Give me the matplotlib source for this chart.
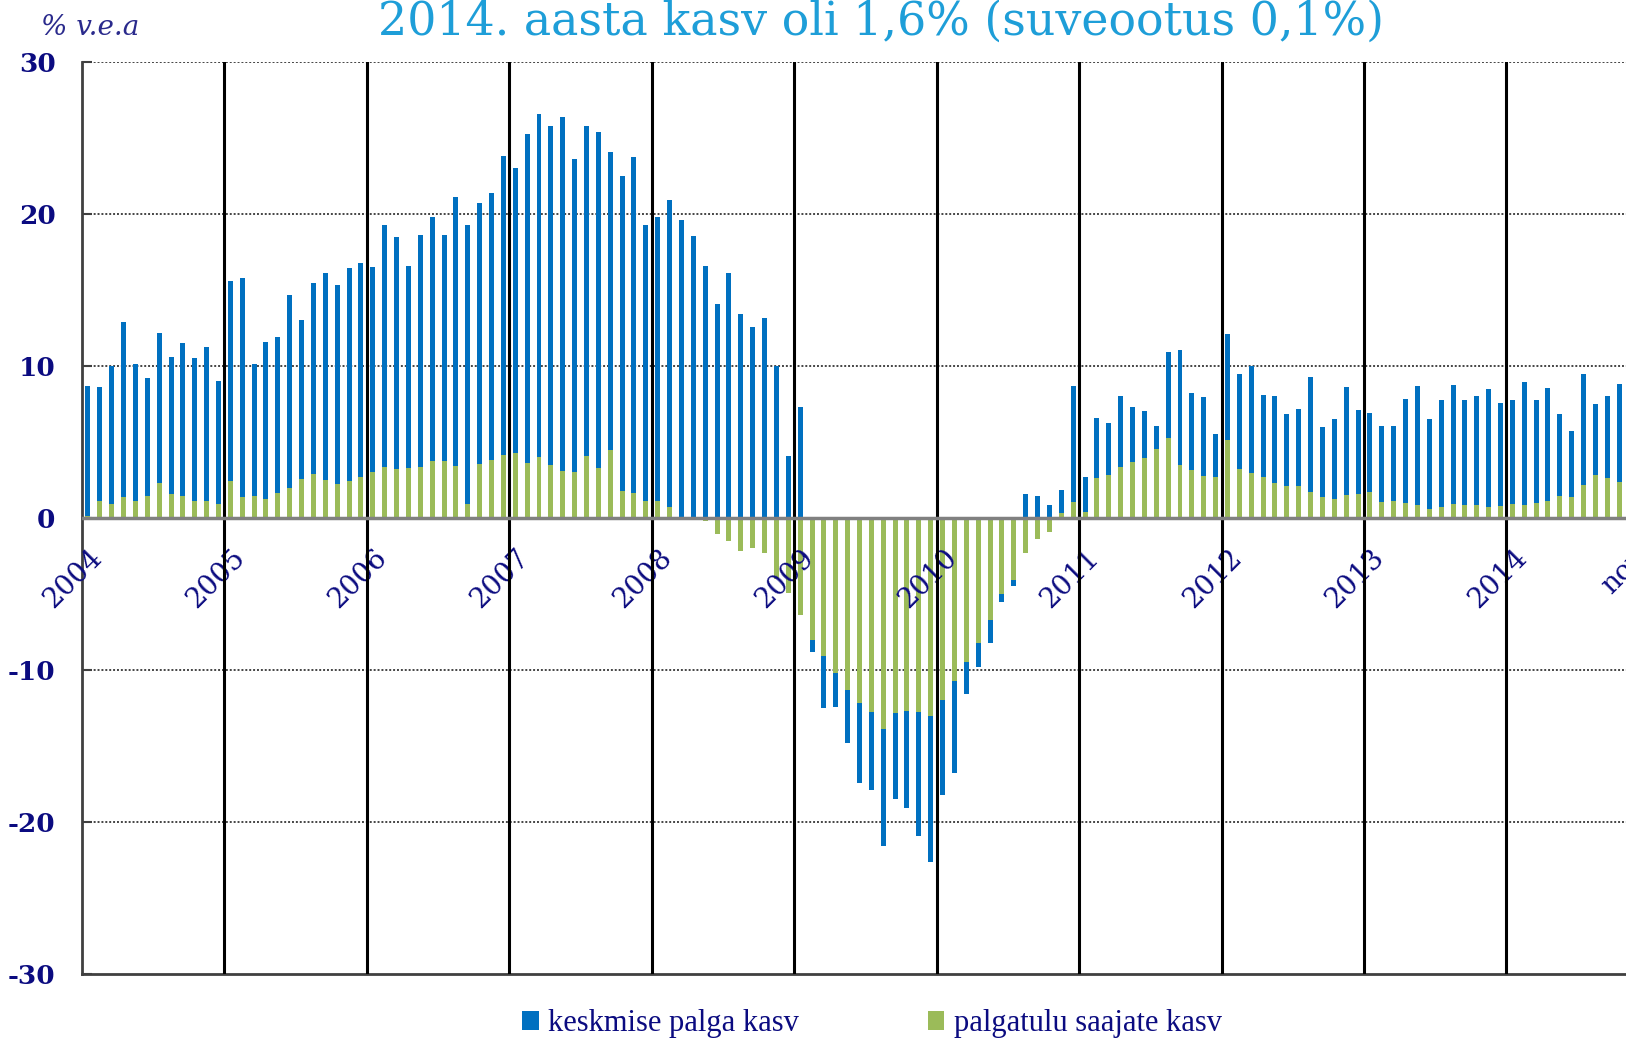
import numpy as np
import matplotlib
matplotlib.use("Agg")
import matplotlib.pyplot as plt
from matplotlib import transforms
from matplotlib.patches import Patch

# ---------------- data ----------------
title = "2014. aasta kasv oli 1,6% (suveootus 0,1%)"
unit_label = "% v.e.a"
series_names = ["keskmise palga kasv", "palgatulu saajate kasv"]
year_labels = [str(y) for y in range(2004, 2015)]
last_label = "nov"
y_ticks = [-30, -20, -10, 0, 10, 20, 30]

# monthly, Jan 2004 .. Oct 2014
avg_wage_growth = [
    8.7, 8.6, 10.0, 12.9, 10.1, 9.2, 12.2, 10.6, 11.5, 10.55, 11.25, 9.0,
    15.6, 15.8, 10.1, 11.6, 11.9, 14.65, 13.05, 15.45, 16.1, 15.3, 16.45, 16.75,
    16.5, 19.3, 18.5, 16.6, 18.6, 19.8, 18.65, 21.15, 19.3, 20.75, 21.35, 23.8,
    23.05, 25.25, 26.55, 25.8, 26.4, 23.6, 25.8, 25.4, 24.05, 22.5, 23.75, 19.3,
    19.8, 20.9, 19.6, 18.55, 16.6, 14.05, 16.15, 13.45, 12.55, 13.15, 10.0, 4.1,
    7.3, -8.8, -12.5, -12.45, -14.8, -17.45, -17.9, -21.55, -18.5, -19.1, -20.9, -22.6,
    -18.25, -16.75, -11.6, -9.8, -8.25, -5.55, -4.5, 1.55, 1.45, 0.85, 1.85, 8.7,
    2.7, 6.55, 6.25, 8.0, 7.3, 7.05, 6.05, 10.9, 11.05, 8.25, 7.95, 5.55,
    12.1, 9.45, 10.0, 8.1, 8.05, 6.85, 7.15, 9.25, 6.0, 6.5, 8.65, 7.1,
    6.9, 6.05, 6.05, 7.8, 8.7, 6.5, 7.75, 8.75, 7.75, 8.0, 8.5, 7.55,
    7.75, 8.95, 7.75, 8.55, 6.85, 5.7, 9.5, 7.5, 8.05, 8.8,
]
earners_growth = [
    0.1, 1.15, 0.95, 1.35, 1.15, 1.45, 2.3, 1.6, 1.45, 1.15, 1.15, 0.95,
    2.45, 1.4, 1.45, 1.25, 1.65, 1.95, 2.55, 2.9, 2.5, 2.25, 2.45, 2.7,
    3.0, 3.35, 3.2, 3.3, 3.35, 3.75, 3.75, 3.45, 0.9, 3.55, 3.8, 4.15,
    4.3, 3.65, 4.0, 3.5, 3.1, 3.05, 4.05, 3.3, 4.5, 1.75, 1.65, 1.15,
    1.15, 0.7, 0.05, -0.1, -0.2, -1.05, -1.5, -2.2, -2.0, -2.3, -4.0, -4.95,
    -6.4, -8.0, -9.05, -10.2, -11.3, -12.15, -12.75, -13.85, -12.8, -12.7, -12.75, -13.0,
    -11.95, -10.75, -9.45, -8.25, -6.7, -5.0, -4.1, -2.3, -1.35, -0.9, 0.35, 1.05,
    0.4, 2.65, 2.85, 3.35, 3.7, 3.95, 4.55, 5.25, 3.5, 3.15, 2.75, 2.7,
    5.1, 3.2, 2.95, 2.7, 2.3, 2.1, 2.1, 1.7, 1.4, 1.25, 1.5, 1.6,
    1.7, 1.05, 1.1, 1.0, 0.85, 0.6, 0.7, 0.95, 0.85, 0.85, 0.75, 0.8,
    0.9, 0.85, 1.0, 1.15, 1.45, 1.4, 2.15, 2.85, 2.65, 2.35,
]

BLUE = "#0070C0"
GREEN = "#9BBB59"
NAVY = "#0B0B80"
TITLE_BLUE = "#1E9ED8"

n_months_axis = 131  # Jan 2004 .. Nov 2014
x = np.arange(len(avg_wage_growth)) + 0.5

W, H = 1626, 1039
fig = plt.figure(figsize=(W / 100, H / 100), dpi=100)
ax = fig.add_axes([82 / W, 1 - 974 / H, 1555 / W, 912 / H])

ax.bar(x, avg_wage_growth, width=0.42, color=BLUE, edgecolor="none", zorder=2)
ax.bar(x, earners_growth, width=0.42, color=GREEN, edgecolor="none", zorder=3)

ax.set_xlim(0, n_months_axis)
ax.set_ylim(-30, 30)

for yv in [-20, -10, 10, 20, 30]:
    ax.axhline(yv, color="#444444", lw=1.4, ls=(0, (1, 1)), zorder=1)
for k in range(1, len(year_labels)):
    ax.axvline(12 * k, color="black", lw=2.2, zorder=4)
ax.axhline(0, color="#808080", lw=2.5, zorder=5)

for s in ["top", "right"]:
    ax.spines[s].set_visible(False)
for s in ["left", "bottom"]:
    ax.spines[s].set_color("#404040")
    ax.spines[s].set_linewidth(2)

ax.set_xticks([])
ax.set_yticks(y_ticks)
ax.set_yticklabels([str(v) for v in y_ticks])
ax.tick_params(axis="y", direction="in", length=7, width=1.5, color="#404040",
               pad=19, labelsize=19, labelcolor=NAVY)
for lbl in ax.get_yticklabels():
    lbl.set_fontfamily("DejaVu Serif")
    lbl.set_fontweight("bold")

off = transforms.offset_copy(ax.transData, fig=fig, x=16, y=-36, units="dots")
for k, lab in enumerate(year_labels):
    ax.text(12 * k, 0, lab, transform=off, rotation=45, rotation_mode="anchor",
            ha="right", va="center", fontsize=20, color=NAVY, family="DejaVu Serif")
ax.text(130, 0, last_label, transform=off, rotation=45, rotation_mode="anchor",
        ha="right", va="center", fontsize=20, color=NAVY, family="DejaVu Serif")

fig.text(881 / W, 1 - 35 / H, title, ha="center", va="baseline", fontsize=33,
         color=TITLE_BLUE, family="DejaVu Serif")
fig.text(41 / W, 1 - 35 / H, unit_label, ha="left", va="baseline", fontsize=20,
         style="italic", color="#2A2A8C", family="DejaVu Serif")

handles = [Patch(facecolor=BLUE), Patch(facecolor=GREEN)]
fig.legend(handles, series_names, loc="center", bbox_to_anchor=(872 / W, 1 - 1024 / H),
           ncol=2, frameon=False, handlelength=0.55, handleheight=0.55,
           handletextpad=0.3, columnspacing=4.2,
           prop={"family": "Liberation Serif", "size": 22}, labelcolor=NAVY)

fig.savefig("out.png", dpi=100)
